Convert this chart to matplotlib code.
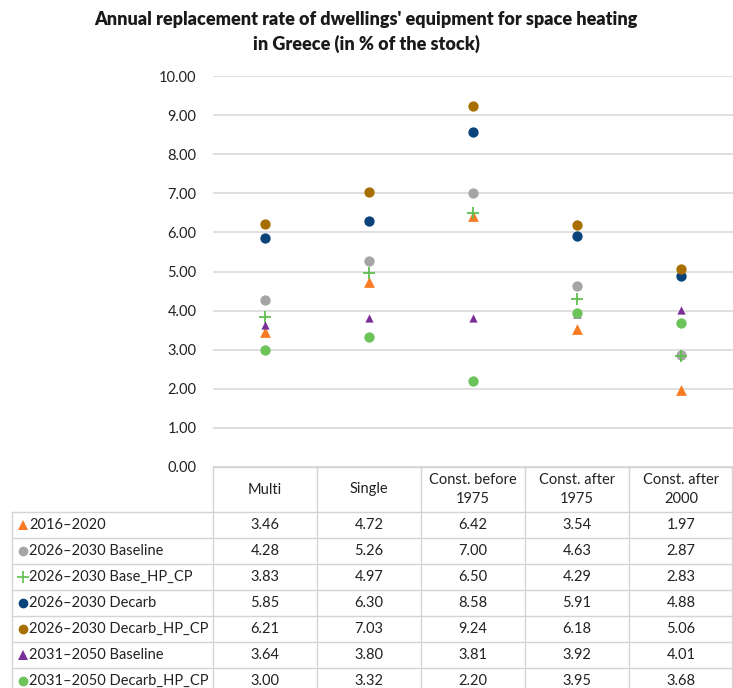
import matplotlib
matplotlib.use('Agg')
import matplotlib.pyplot as plt
from matplotlib.lines import Line2D
import numpy as np

plt.rcParams['font.family'] = ['Lato', 'DejaVu Sans']

# categories and series
categories = ['Multi', 'Single', 'Const. before\n1975', 'Const. after\n1975', 'Const. after\n2000']
series_names = ['2016\u20132020', '2026\u20132030 Baseline', '2026\u20132030 Base_HP_CP',
                '2026\u20132030 Decarb', '2026\u20132030 Decarb_HP_CP',
                '2031\u20132050 Baseline', '2031\u20132050 Decarb_HP_CP']
v_2016 = [3.46, 4.72, 6.42, 3.54, 1.97]
v_2026_base = [4.28, 5.26, 7.00, 4.63, 2.87]
v_2026_base_hp = [3.83, 4.97, 6.50, 4.29, 2.83]
v_2026_decarb = [5.85, 6.30, 8.58, 5.91, 4.88]
v_2026_decarb_hp = [6.21, 7.03, 9.24, 6.18, 5.06]
v_2031_base = [3.64, 3.80, 3.81, 3.92, 4.01]
v_2031_decarb_hp = [3.00, 3.32, 2.20, 3.95, 3.68]
all_vals = [v_2016, v_2026_base, v_2026_base_hp, v_2026_decarb,
            v_2026_decarb_hp, v_2031_base, v_2031_decarb_hp]

# marker styles
colors = ['#F97C25', '#A5A5A5', '#5FBF4E', '#0A437A', '#A86F00', '#7A2E9A', '#6CC35A']
markers = ['^', 'o', '+', 'o', 'o', '^', 'o']
sizes = [60, 55, 75, 55, 55, 35, 55]

W, H = 733, 688
fig = plt.figure(figsize=(W / 100, H / 100), dpi=100)

x0, x1 = 213, 733
ytop, ybot = 76, 467
ax = fig.add_axes([x0 / W, 1 - ybot / H, (x1 - x0) / W, (ybot - ytop) / H])

xs = np.arange(len(categories))
for vals, c, m, s in zip(all_vals, colors, markers, sizes):
    if m == '+':
        ax.scatter(xs, vals, marker=m, s=s, color=c, linewidths=1.3, zorder=3)
    else:
        ax.scatter(xs, vals, marker=m, s=s, color=c, linewidths=0, zorder=3)

ax.set_xlim(-0.5, len(categories) - 0.5)
ax.set_ylim(0, 10)
ax.set_yticks(np.arange(0, 11, 1))
ax.set_yticklabels(['%.2f' % t for t in np.arange(0, 11, 1)], fontsize=10.5, color='#222222')
ax.set_xticks([])
ax.tick_params(axis='y', length=0, pad=12)
ax.yaxis.grid(True, color='#D9D9D9', linewidth=1.2)
ax.set_axisbelow(True)
for sp in ax.spines.values():
    sp.set_visible(False)

fig.text(366 / W, 1 - 20 / H, "Annual replacement rate of dwellings' equipment for space heating",
         ha='center', va='center', fontsize=13, fontweight='heavy', color='#1a1a1a')
fig.text(366 / W, 1 - 44 / H, "in Greece (in % of the stock)",
         ha='center', va='center', fontsize=13, fontweight='heavy', color='#1a1a1a')

# data table drawn below the plot
col_w = (x1 - x0) / len(categories)
lab_x0 = 12
head_bot = 512
row_h = 26
line_col = '#D4D4D4'

def hline(y, xa, xb):
    fig.add_artist(Line2D([xa / W, xb / W], [1 - y / H, 1 - y / H], color=line_col, lw=1))

def vline(x, ya, yb):
    fig.add_artist(Line2D([x / W, x / W], [1 - ya / H, 1 - yb / H], color=line_col, lw=1))

n_rows = len(series_names)
table_bot = head_bot + row_h * n_rows
hline(ybot, x0, x1)
hline(head_bot, lab_x0, x1)
for i in range(1, n_rows + 1):
    hline(head_bot + row_h * i, lab_x0, x1)
vline(lab_x0, head_bot, table_bot)
for j in range(len(categories) + 1):
    vline(x0 + col_w * j - (1 if j == len(categories) else 0), ybot, table_bot)

for j, cat in enumerate(categories):
    fig.text((x0 + col_w * (j + 0.5)) / W, 1 - (ybot + head_bot) / 2 / H, cat,
             ha='center', va='center', fontsize=10.5, color='#222222', linespacing=1.45)

for i, (name, vals) in enumerate(zip(series_names, all_vals)):
    yc = 1 - (head_bot + row_h * (i + 0.5)) / H
    fig.add_artist(Line2D([(lab_x0 + 11) / W], [yc], marker=markers[i], color=colors[i],
                          markersize=7 if markers[i] != '+' else 8, linestyle='none',
                          markeredgewidth=1.2 if markers[i] == '+' else 0))
    fig.text((lab_x0 + 17) / W, yc, name, ha='left', va='center', fontsize=10.5, color='#222222')
    for j, v in enumerate(vals):
        fig.text((x0 + col_w * (j + 0.5)) / W, yc, '%.2f' % v,
                 ha='center', va='center', fontsize=10.5, color='#222222')

fig.savefig('out.png', dpi=100)
